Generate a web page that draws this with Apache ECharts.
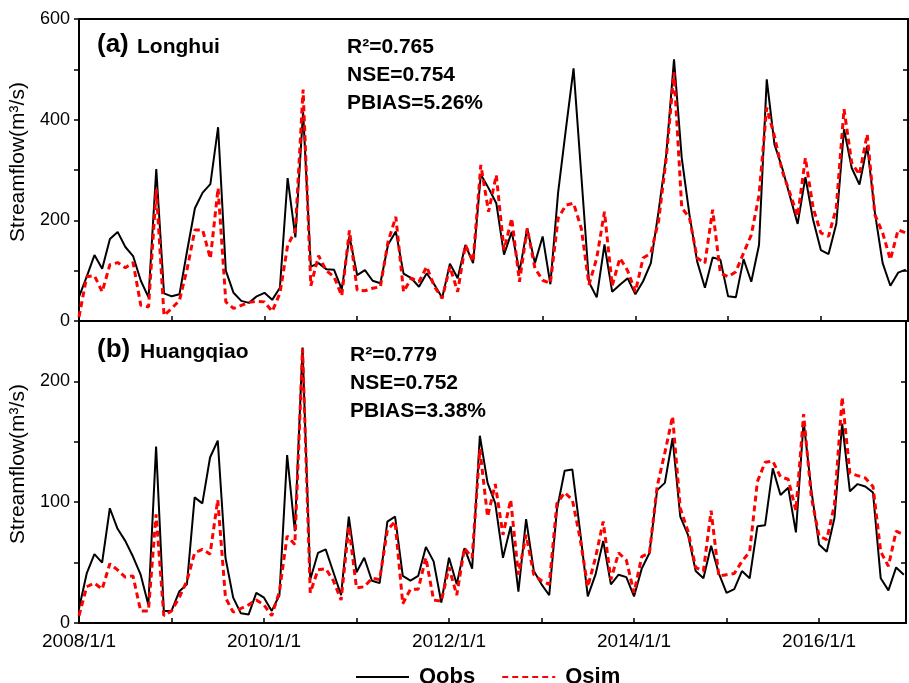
<!DOCTYPE html>
<html>
<head>
<meta charset="utf-8" />
<script src="https://cdn.jsdelivr.net/npm/echarts@6/dist/echarts.min.js"></script>
<style>
  html, body { margin: 0; padding: 0; background: #fff; }
  #chart { width: 909px; height: 683px; }
</style>
</head>
<body>
<div id="chart"></div>
<script>
// monthly series, 2008/1 .. 2016/12
const years = [2008, 2009, 2010, 2011, 2012, 2013, 2014, 2015, 2016];
const months = [];
years.forEach((y) => {
  for (let m = 1; m <= 12; m++) months.push(y + "/" + m);
});

const xTickYears = [2008, 2010, 2012, 2014, 2016];
const yTicksA = [0, 200, 400, 600];
const yTicksB = [0, 100, 200];

// (a) Longhui
const qobsLonghui = [
  48, 88, 131, 104, 163, 177, 147, 129, 80, 47, 302, 55,
  49, 53, 140, 224, 255, 272, 385, 100, 56, 40, 36, 49,
  56, 42, 66, 284, 166, 416, 108, 115, 103, 102, 63, 168,
  91, 101, 80, 75, 152, 178, 94, 85, 68, 95, 72, 46,
  114, 85, 151, 115, 291, 264, 234, 132, 177, 98, 184, 115,
  168, 73, 255, 380, 502, 290, 77, 47, 152, 58, 72, 85,
  53, 79, 115, 218, 331, 520, 324, 211, 118, 66, 126, 122,
  49, 47, 123, 78, 151, 480, 351, 304, 248, 193, 286, 201,
  141, 133, 193, 381, 304, 271, 348, 215, 115, 70, 96, 102,
];
const qsimLonghui = [
  8, 88, 90, 58, 112, 116, 106, 116, 31, 28, 262, 11,
  25, 41, 104, 181, 181, 124, 264, 38, 25, 31, 37, 39,
  38, 19, 55, 150, 180, 460, 70, 130, 100, 88, 50, 180,
  61, 60, 65, 68, 158, 207, 58, 85, 78, 108, 68, 45,
  108, 58, 151, 118, 310, 217, 290, 141, 204, 78, 184, 105,
  81, 75, 204, 230, 234, 184, 72, 125, 217, 70, 125, 100,
  58, 125, 135, 198, 324, 494, 225, 205, 125, 115, 221, 95,
  88, 98, 135, 171, 250, 424, 367, 298, 254, 208, 324, 225,
  175, 168, 225, 421, 314, 291, 371, 211, 175, 122, 181, 175,
];

// (b) Huangqiao
const qobsHuangqiao = [
  12, 41, 57, 50, 95, 78, 68, 55, 40, 15, 146, 10,
  10, 26, 32, 104, 99, 137, 151, 54, 21, 8, 7, 25,
  21, 10, 23, 139, 76, 228, 36, 58, 61, 42, 23, 88,
  42, 54, 35, 33, 84, 88, 39, 35, 39, 63, 51, 17,
  54, 32, 62, 45, 155, 116, 99, 54, 80, 26, 86, 43,
  32, 23, 94, 126, 127, 76, 22, 40, 68, 32, 40, 38,
  22, 45, 58, 110, 116, 153, 88, 73, 43, 37, 64, 41,
  25, 28, 43, 37, 80, 81, 128, 106, 112, 75, 167, 110,
  65, 59, 87, 165, 109, 115, 113, 108, 37, 27, 46, 40,
];
const qsimHuangqiao = [
  6, 30, 33, 28, 49, 44, 38, 39, 10, 10, 90, 6,
  10, 21, 35, 58, 61, 57, 102, 21, 9, 12, 15, 19,
  15, 6, 26, 72, 65, 227, 25, 44, 45, 35, 19, 80,
  29, 30, 37, 36, 77, 84, 16, 28, 28, 54, 19, 18,
  46, 23, 62, 54, 144, 88, 115, 73, 102, 40, 73, 40,
  35, 32, 99, 108, 102, 70, 30, 54, 84, 36, 58, 52,
  25, 55, 58, 113, 141, 171, 95, 76, 46, 43, 93, 39,
  40, 41, 51, 59, 117, 133, 134, 121, 119, 93, 173, 104,
  72, 69, 98, 187, 124, 122, 120, 113, 59, 47, 76, 73,
];

const FONT = '"Liberation Sans", Arial, sans-serif';

// month "2009/4" -> decimal year on the value axis
const toX = (s) => {
  const [y, m] = s.split("/").map(Number);
  return y + (m - 1) / 12;
};
const pairs = (vals) => months.map((m, i) => [toX(m), vals[i]]);

const xAxisBase = (gridIndex, showLabels) => ({
  type: "value",
  gridIndex,
  min: 2008,
  max: 2016.94,
  interval: 1,
  axisLine: { lineStyle: { color: "#000", width: 2 } },
  axisTick: { inside: true, length: 5, lineStyle: { color: "#000", width: 1.5 } },
  splitLine: { show: false },
  axisLabel: {
    show: showLabels,
    color: "#000",
    fontFamily: FONT,
    fontSize: 19,
    margin: 9,
    formatter: (v) => (xTickYears.includes(v) ? v + "/1/1" : ""),
  },
});

const yAxisLeft = (gridIndex, max, interval, ticks) => ({
  type: "value",
  gridIndex,
  min: 0,
  max,
  interval,
  position: "left",
  name: "Streamflow(m³/s)",
  nameLocation: "middle",
  nameGap: 47,
  nameTextStyle: { color: "#000", fontFamily: FONT, fontSize: 21, padding: [0, 0, 0, 16] },
  axisLine: { show: true, lineStyle: { color: "#000", width: 2 } },
  axisTick: { show: true, inside: false, length: 5, lineStyle: { color: "#000", width: 1.5 } },
  splitLine: { show: false },
  axisLabel: {
    color: "#000",
    fontFamily: FONT,
    fontSize: 18,
    margin: 9,
    showMaxLabel: ticks.includes(max),
    formatter: (v) => (ticks.includes(v) ? String(v) : ""),
  },
});

const yAxisRight = (gridIndex, max, interval) => ({
  type: "value",
  gridIndex,
  min: 0,
  max,
  interval,
  position: "right",
  axisLine: { show: true, lineStyle: { color: "#000", width: 2 } },
  axisTick: { show: true, inside: true, length: 5, lineStyle: { color: "#000", width: 1.5 } },
  splitLine: { show: false },
  axisLabel: { show: false },
});

const obsStyle = { color: "#000", width: 2 };
const simStyle = { color: "#ff0000", width: 3, type: [6, 4] };

const lineSeries = (name, vals, xi, yi, style) => ({
  name,
  type: "line",
  xAxisIndex: xi,
  yAxisIndex: yi,
  data: pairs(vals),
  symbol: "none",
  animation: false,
  itemStyle: { color: style.color },
  lineStyle: style,
});

const txt = (x, y, text, size) => ({
  type: "text",
  x,
  y,
  style: { text, fill: "#000", font: "bold " + size + "px " + FONT, verticalAlign: "middle" },
});

const statBlock = (x, y, lines) => ({
  type: "text",
  x,
  y,
  style: {
    text: lines.join("\n"),
    fill: "#000",
    font: "bold 21px " + FONT,
    lineHeight: 28,
    verticalAlign: "top",
  },
});

const chart = echarts.init(document.getElementById("chart"), null, { renderer: "canvas" });

chart.setOption({
  animation: false,
  backgroundColor: "#fff",
  grid: [
    { left: 79, right: 1, top: 19, height: 302, show: true, borderColor: "#000", borderWidth: 2 },
    { left: 79, right: 1, top: 321, height: 302, show: true, borderColor: "#000", borderWidth: 2 },
  ],
  xAxis: [xAxisBase(0, false), xAxisBase(1, true)],
  yAxis: [
    yAxisLeft(0, 600, 100, yTicksA),
    yAxisRight(0, 600, 100),
    yAxisLeft(1, 250, 50, yTicksB),
    yAxisRight(1, 250, 50),
  ],
  legend: {
    left: 350,
    top: 661,
    itemWidth: 53,
    itemHeight: 14,
    itemGap: 26,
    data: ["Qobs", "Qsim"],
    itemStyle: { opacity: 0, borderWidth: 0 },
    textStyle: { color: "#000", fontFamily: FONT, fontSize: 22, fontWeight: "bold", padding: [0, 0, 0, 5] },
  },
  graphic: [
    txt(97, 45, "(a)", 26),
    txt(137, 47, "Longhui", 21),
    statBlock(347, 33.5, ["R²=0.765", "NSE=0.754", "PBIAS=5.26%"]),
    txt(97, 350, "(b)", 26),
    txt(140, 352, "Huangqiao", 21),
    statBlock(350, 341.5, ["R²=0.779", "NSE=0.752", "PBIAS=3.38%"]),
  ],
  series: [
    lineSeries("Qobs", qobsLonghui, 0, 0, obsStyle),
    lineSeries("Qsim", qsimLonghui, 0, 0, simStyle),
    lineSeries("Qobs", qobsHuangqiao, 1, 2, obsStyle),
    lineSeries("Qsim", qsimHuangqiao, 1, 2, simStyle),
  ],
});
</script>
</body>
</html>
